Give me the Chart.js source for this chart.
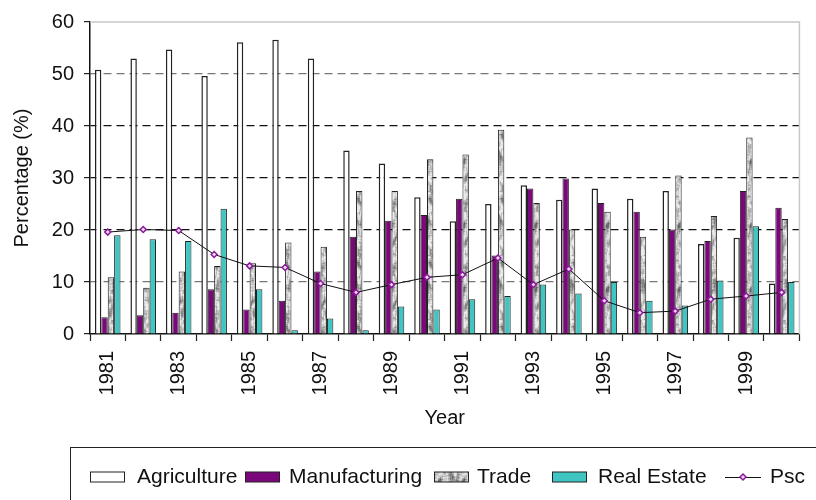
<!DOCTYPE html>
<html><head><meta charset="utf-8">
<script src="https://cdn.jsdelivr.net/npm/chart.js@4/dist/chart.umd.min.js"></script>
<style>html,body{margin:0;padding:0;background:#fff}#wrap{width:816px;height:500px}</style>
</head><body><div id="wrap"><canvas id="c" width="816" height="500"></canvas></div>
<script>
const years = ['1981','1982','1983','1984','1985','1986','1987','1988','1989','1990','1991','1992','1993','1994','1995','1996','1997','1998','1999','2000'];
const agriculture = [50.8,53.0,54.7,49.6,56.1,56.6,53.0,35.3,32.8,26.3,21.7,25.0,28.6,25.8,28.0,26.0,27.5,17.3,18.5,9.7];
const manufacturing = [3.2,3.6,4.1,8.6,4.7,6.4,12.0,18.7,21.8,22.9,26.0,15.1,28.0,29.9,25.2,23.5,20.1,17.9,27.5,24.3];
const trade = [10.9,8.9,12.0,13.1,13.6,17.6,16.8,27.5,27.5,33.6,34.5,39.3,25.2,20.1,23.5,18.7,30.5,22.7,37.8,22.1];
const realEstate = [19.0,18.2,17.9,24.1,8.6,0.7,3.0,0.7,5.3,4.7,6.7,7.3,9.5,7.8,10.0,6.4,5.5,10.3,20.7,10.0];
const psc = [19.6,20.1,19.9,15.3,13.1,12.8,9.7,8.0,9.5,10.9,11.4,14.6,9.5,12.5,6.4,4.1,4.4,6.7,7.3,8.0];
const seriesNames = ['Agriculture','Manufacturing','Trade','Real Estate','Psc'];
const yMin = 0, yMax = 60, yStep = 10;

const FONT = '"Liberation Sans", Arial, sans-serif';

function makeTradePattern(){
  const W = 24, H = 64;
  const c = document.createElement('canvas');
  c.width = W; c.height = H;
  const g = c.getContext('2d');
  const img = g.createImageData(W, H);
  const h = (x, y) => { const s = Math.sin((((x%W)+W)%W)*127.1 + (((y%H)+H)%H)*311.7) * 43758.5453; return s - Math.floor(s); };
  for (let y = 0; y < H; y++) {
    for (let x = 0; x < W; x++) {
      let n = 0;
      for (let dy = -2; dy <= 2; dy++) for (let dx = -1; dx <= 1; dx++) n += h(x+dx, y+dy);
      n /= 15;
      let v = 200 + (n - 0.5) * 420 + 18*Math.sin(y*0.35 + x*0.7);
      v = Math.max(60, Math.min(235, v));
      const i = (y*W + x)*4;
      img.data[i] = v; img.data[i+1] = v; img.data[i+2] = v; img.data[i+3] = 255;
    }
  }
  g.putImageData(img, 0, 0);
  return document.getElementById('c').getContext('2d').createPattern(c, 'repeat');
}
const tradePattern = makeTradePattern();

const frameAndLegend = {
  id: 'frameAndLegend',
  afterDraw(chart){
    const ctx = chart.ctx, a = chart.chartArea;
    ctx.save();
    ctx.strokeStyle = '#c8c8c8'; ctx.lineWidth = 1.5;
    ctx.beginPath();
    ctx.moveTo(a.left, a.top); ctx.lineTo(a.right, a.top); ctx.lineTo(a.right, a.bottom);
    ctx.stroke();
    ctx.strokeStyle = '#222'; ctx.lineWidth = 1;
    ctx.strokeRect(70.5, 447.5, 800, 80);
    const cy = 477;
    const items = [
      {ds:0, box:90.5, text:137},
      {ds:1, box:245.5, text:289},
      {ds:2, box:434.5, text:477},
      {ds:3, box:552.5, text:598},
      {ds:4, line:725, text:770}
    ];
    ctx.font = '21px ' + FONT;
    ctx.textBaseline = 'middle';
    items.forEach(it => {
      const d = chart.data.datasets[it.ds];
      if (it.line !== undefined) {
        ctx.strokeStyle = '#111'; ctx.lineWidth = 1;
        ctx.beginPath(); ctx.moveTo(it.line, cy+0.5); ctx.lineTo(it.line+36, cy+0.5); ctx.stroke();
        const mx = it.line + 18;
        ctx.beginPath();
        ctx.moveTo(mx, cy-3); ctx.lineTo(mx+3, cy); ctx.lineTo(mx, cy+3); ctx.lineTo(mx-3, cy); ctx.closePath();
        ctx.fillStyle = '#f0d8f0'; ctx.fill();
        ctx.strokeStyle = d.pointBorderColor; ctx.lineWidth = 1.5; ctx.stroke();
      } else {
        ctx.fillStyle = d.backgroundColor;
        ctx.fillRect(it.box, cy-5, 34, 10);
        ctx.strokeStyle = '#222'; ctx.lineWidth = 1;
        ctx.strokeRect(it.box, cy-5, 34, 10);
      }
      ctx.fillStyle = '#111';
      ctx.fillText(d.label, it.text, cy);
    });
    ctx.restore();
  }
};

new Chart(document.getElementById('c'), {
  type: 'bar',
  data: {
    labels: years,
    datasets: [
      {label: seriesNames[0], data: agriculture, backgroundColor: '#ffffff', borderColor: '#222', borderWidth: 1.5, order: 1},
      {label: seriesNames[1], data: manufacturing, backgroundColor: '#7b087b', borderColor: '#222', borderWidth: 1, order: 1},
      {label: seriesNames[2], data: trade, backgroundColor: tradePattern, borderColor: '#222', borderWidth: 1, order: 1},
      {label: seriesNames[3], data: realEstate, backgroundColor: '#40c6c2', borderColor: '#222', borderWidth: 1, order: 1},
      {type: 'line', label: seriesNames[4], data: psc, borderColor: '#111', borderWidth: 1, tension: 0,
       pointStyle: 'rectRot', pointRadius: 3, pointBorderColor: '#8a1a9a', pointBackgroundColor: '#f0d8f0', pointBorderWidth: 1.5, order: 0}
    ]
  },
  options: {
    responsive: false,
    animation: false,
    devicePixelRatio: 1,
    datasets: { bar: { categoryPercentage: 0.72, barPercentage: 1.0 } },
    layout: { padding: { left: 0, right: 12, top: 20, bottom: 0 } },
    plugins: { legend: { display: false }, tooltip: { enabled: false } },
    scales: {
      x: {
        offset: true,
        grid: { display: true, offset: true, drawOnChartArea: false, drawTicks: true, tickLength: 7, tickColor: '#222', color: '#222', tickWidth: 1.2 },
        border: { color: '#111', width: 1.5 },
        ticks: {
          autoSkip: false, maxRotation: 90, minRotation: 90, padding: 10,
          color: '#111', font: { family: FONT, size: 20 },
          callback: (v, i) => (i % 2 === 0 ? years[i] : '')
        },
        title: { display: true, text: 'Year', color: '#111', font: { family: FONT, size: 20 }, padding: { top: 0, bottom: 70 } },
        afterFit: s => { s.height = 166; }
      },
      y: {
        min: yMin, max: yMax,
        grid: {
          drawTicks: true, tickLength: 6, tickColor: '#222', tickWidth: 1.2, lineWidth: 1.2,
          color: c => (c.tick.value === yMax || c.tick.value === yMin) ? 'rgba(0,0,0,0)' : ((c.tick.value === 50 || c.tick.value === 10) ? '#777' : '#111')
        },
        border: { color: '#111', width: 1.5, dash: [8, 5] },
        ticks: { stepSize: yStep, padding: 10, color: '#111', font: { family: FONT, size: 20 } },
        title: { display: true, text: 'Percentage (%)', color: '#111', font: { family: FONT, size: 20 }, padding: { top: 10, bottom: 0 } },
        afterFit: s => { s.width = 90; }
      }
    }
  },
  plugins: [frameAndLegend]
});
</script>
</body></html>
